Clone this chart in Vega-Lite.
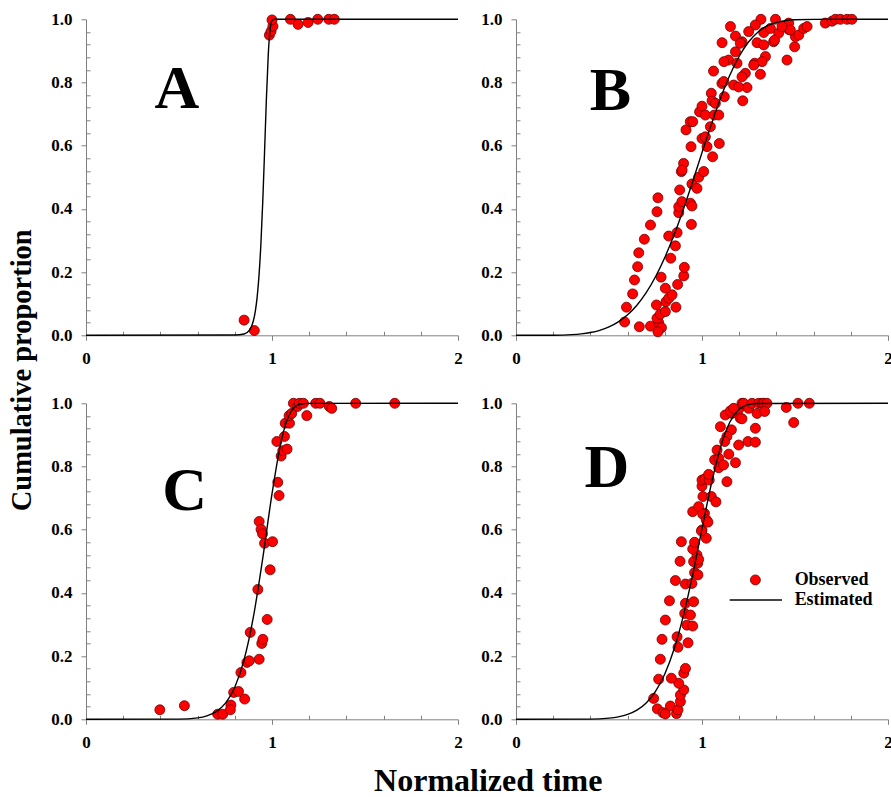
{
"$schema":"https://vega.github.io/schema/vega-lite/v6.json",
"background":"white",
"padding":{"left":8,"top":10.3,"right":0,"bottom":0},
"datasets":{
"curves":[
{"g":"A","t":0,"p":0},{"g":"A","t":0.8,"p":0.001},{"g":"A","t":0.85,"p":0.004},{"g":"A","t":0.88,"p":0.017},{"g":"A","t":0.9,"p":0.046},{"g":"A","t":0.91,"p":0.075},{"g":"A","t":0.92,"p":0.12},{"g":"A","t":0.93,"p":0.188},{"g":"A","t":0.94,"p":0.286},{"g":"A","t":0.95,"p":0.419},{"g":"A","t":0.96,"p":0.581},{"g":"A","t":0.97,"p":0.75},{"g":"A","t":0.98,"p":0.889},{"g":"A","t":0.99,"p":0.969},{"g":"A","t":1.0,"p":0.996},{"g":"A","t":1.01,"p":1.0},{"g":"A","t":2.0,"p":1.0},
{"g":"B","t":0,"p":0},{"g":"B","t":0.2,"p":0.0003},{"g":"B","t":0.3,"p":0.0021},{"g":"B","t":0.35,"p":0.0045},{"g":"B","t":0.4,"p":0.0088},{"g":"B","t":0.45,"p":0.0158},{"g":"B","t":0.5,"p":0.0266},{"g":"B","t":0.55,"p":0.0425},{"g":"B","t":0.6,"p":0.0649},{"g":"B","t":0.65,"p":0.0953},{"g":"B","t":0.7,"p":0.1349},{"g":"B","t":0.75,"p":0.1852},{"g":"B","t":0.8,"p":0.2462},{"g":"B","t":0.85,"p":0.318},{"g":"B","t":0.9,"p":0.3991},{"g":"B","t":0.95,"p":0.487},{"g":"B","t":1.0,"p":0.578},{"g":"B","t":1.05,"p":0.6674},{"g":"B","t":1.1,"p":0.7508},{"g":"B","t":1.15,"p":0.8236},{"g":"B","t":1.2,"p":0.883},{"g":"B","t":1.25,"p":0.9281},{"g":"B","t":1.3,"p":0.9593},{"g":"B","t":1.35,"p":0.9791},{"g":"B","t":1.4,"p":0.9903},{"g":"B","t":1.5,"p":0.9986},{"g":"B","t":1.6,"p":0.9999},{"g":"B","t":2.0,"p":1.0},
{"g":"C","t":0,"p":0},{"g":"C","t":0.5,"p":0.0006},{"g":"C","t":0.6,"p":0.0045},{"g":"C","t":0.65,"p":0.0109},{"g":"C","t":0.7,"p":0.0244},{"g":"C","t":0.75,"p":0.0513},{"g":"C","t":0.8,"p":0.1017},{"g":"C","t":0.85,"p":0.1887},{"g":"C","t":0.9,"p":0.3241},{"g":"C","t":0.95,"p":0.5086},{"g":"C","t":1.0,"p":0.7132},{"g":"C","t":1.05,"p":0.8819},{"g":"C","t":1.1,"p":0.9716},{"g":"C","t":1.15,"p":0.997},{"g":"C","t":1.2,"p":0.9999},{"g":"C","t":2.0,"p":1.0},
{"g":"D","t":0,"p":0},{"g":"D","t":0.4,"p":0.0006},{"g":"D","t":0.5,"p":0.0036},{"g":"D","t":0.55,"p":0.0077},{"g":"D","t":0.6,"p":0.0154},{"g":"D","t":0.65,"p":0.029},{"g":"D","t":0.7,"p":0.0518},{"g":"D","t":0.75,"p":0.0883},{"g":"D","t":0.8,"p":0.1435},{"g":"D","t":0.85,"p":0.2225},{"g":"D","t":0.9,"p":0.328},{"g":"D","t":0.95,"p":0.4581},{"g":"D","t":1.0,"p":0.6029},{"g":"D","t":1.05,"p":0.7445},{"g":"D","t":1.1,"p":0.8619},{"g":"D","t":1.15,"p":0.9407},{"g":"D","t":1.2,"p":0.9812},{"g":"D","t":1.25,"p":0.9959},{"g":"D","t":1.3,"p":0.9995},{"g":"D","t":2.0,"p":1.0}
],
"points":[
{"g":"A","t":0.85,"p":0.048},{"g":"A","t":0.905,"p":0.015},{"g":"A","t":0.986,"p":0.95},{"g":"A","t":0.995,"p":0.962},{"g":"A","t":1.005,"p":0.978},{"g":"A","t":1.0,"p":0.998},{"g":"A","t":1.099,"p":1.0},{"g":"A","t":1.14,"p":0.984},{"g":"A","t":1.194,"p":0.99},{"g":"A","t":1.246,"p":1.0},{"g":"A","t":1.305,"p":1.0},{"g":"A","t":1.335,"p":1.0},
{"g":"C","t":0.397,"p":0.03},{"g":"C","t":0.529,"p":0.043},{"g":"C","t":0.708,"p":0.016},{"g":"C","t":0.735,"p":0.016},{"g":"C","t":0.779,"p":0.045},{"g":"C","t":0.776,"p":0.03},{"g":"C","t":0.794,"p":0.085},{"g":"C","t":0.82,"p":0.088},{"g":"C","t":0.853,"p":0.064},{"g":"C","t":0.833,"p":0.148},{"g":"C","t":0.865,"p":0.18},{"g":"C","t":0.878,"p":0.185},{"g":"C","t":0.883,"p":0.275},{"g":"C","t":0.931,"p":0.19},{"g":"C","t":0.945,"p":0.24},{"g":"C","t":0.951,"p":0.253},{"g":"C","t":0.924,"p":0.411},{"g":"C","t":0.974,"p":0.316},{"g":"C","t":0.99,"p":0.473},{"g":"C","t":0.931,"p":0.626},{"g":"C","t":0.941,"p":0.601},{"g":"C","t":0.949,"p":0.587},{"g":"C","t":0.96,"p":0.557},{"g":"C","t":1.003,"p":0.562},{"g":"C","t":1.031,"p":0.75},{"g":"C","t":1.038,"p":0.708},{"g":"C","t":1.026,"p":0.879},{"g":"C","t":1.049,"p":0.833},{"g":"C","t":1.058,"p":0.85},{"g":"C","t":1.081,"p":0.855},{"g":"C","t":1.067,"p":0.895},{"g":"C","t":1.071,"p":0.937},{"g":"C","t":1.094,"p":0.937},{"g":"C","t":1.092,"p":0.961},{"g":"C","t":1.106,"p":0.968},{"g":"C","t":1.115,"p":1.0},{"g":"C","t":1.137,"p":0.99},{"g":"C","t":1.147,"p":1.0},{"g":"C","t":1.169,"p":1.0},{"g":"C","t":1.187,"p":0.961},{"g":"C","t":1.235,"p":1.0},{"g":"C","t":1.258,"p":1.0},{"g":"C","t":1.308,"p":0.99},{"g":"C","t":1.321,"p":0.984},{"g":"C","t":1.45,"p":1.0},{"g":"C","t":1.66,"p":1.0},
{"g":"B","t":0.584,"p":0.042},{"g":"B","t":0.594,"p":0.089},{"g":"B","t":0.627,"p":0.131},{"g":"B","t":0.637,"p":0.175},{"g":"B","t":0.654,"p":0.217},{"g":"B","t":0.66,"p":0.261},{"g":"B","t":0.69,"p":0.304},{"g":"B","t":0.723,"p":0.349},{"g":"B","t":0.758,"p":0.391},{"g":"B","t":0.763,"p":0.435},
{"g":"B","t":0.663,"p":0.027},{"g":"B","t":0.723,"p":0.029},{"g":"B","t":0.767,"p":0.04},{"g":"B","t":0.782,"p":0.024},{"g":"B","t":0.763,"p":0.011},{"g":"B","t":0.758,"p":0.054},{"g":"B","t":0.776,"p":0.067},{"g":"B","t":0.803,"p":0.075},{"g":"B","t":0.755,"p":0.096},{"g":"B","t":0.806,"p":0.106},{"g":"B","t":0.821,"p":0.117},{"g":"B","t":0.839,"p":0.128},{"g":"B","t":0.86,"p":0.089},{"g":"B","t":0.803,"p":0.149},{"g":"B","t":0.869,"p":0.161},{"g":"B","t":0.902,"p":0.188},{"g":"B","t":0.905,"p":0.215},{"g":"B","t":0.78,"p":0.184},
{"g":"B","t":0.832,"p":0.244},{"g":"B","t":0.857,"p":0.283},{"g":"B","t":0.821,"p":0.314},{"g":"B","t":0.866,"p":0.325},{"g":"B","t":0.943,"p":0.351},{"g":"B","t":0.875,"p":0.388},{"g":"B","t":0.875,"p":0.407},{"g":"B","t":0.892,"p":0.423},{"g":"B","t":0.938,"p":0.418},{"g":"B","t":0.946,"p":0.409},{"g":"B","t":0.88,"p":0.46},{"g":"B","t":0.946,"p":0.479},{"g":"B","t":0.973,"p":0.465},{"g":"B","t":0.982,"p":0.5},{"g":"B","t":1.009,"p":0.518},{"g":"B","t":0.889,"p":0.518},{"g":"B","t":0.901,"p":0.544},{"g":"B","t":0.893,"p":0.523},
{"g":"B","t":0.941,"p":0.597},{"g":"B","t":0.914,"p":0.65},{"g":"B","t":0.937,"p":0.676},{"g":"B","t":0.95,"p":0.676},{"g":"B","t":0.987,"p":0.707},{"g":"B","t":1.0,"p":0.725},{"g":"B","t":1.018,"p":0.697},{"g":"B","t":1.0,"p":0.623},{"g":"B","t":1.018,"p":0.628},{"g":"B","t":1.027,"p":0.597},{"g":"B","t":1.057,"p":0.565},{"g":"B","t":1.093,"p":0.607},{"g":"B","t":1.045,"p":0.66},{"g":"B","t":1.066,"p":0.697},{"g":"B","t":1.09,"p":0.697},{"g":"B","t":1.05,"p":0.766},{"g":"B","t":1.054,"p":0.742},{"g":"B","t":1.072,"p":0.734},{"g":"B","t":1.12,"p":0.755},{"g":"B","t":1.062,"p":0.836},{"g":"B","t":1.107,"p":0.797},
{"g":"B","t":1.153,"p":0.977},{"g":"B","t":1.317,"p":1.0},{"g":"B","t":1.395,"p":1.0},{"g":"B","t":1.287,"p":0.982},{"g":"B","t":1.251,"p":0.961},{"g":"B","t":1.332,"p":0.958},{"g":"B","t":1.368,"p":0.971},{"g":"B","t":1.412,"p":0.956},{"g":"B","t":1.466,"p":0.968},{"g":"B","t":1.502,"p":0.945},{"g":"B","t":1.18,"p":0.947},{"g":"B","t":1.215,"p":0.929},{"g":"B","t":1.108,"p":0.926},{"g":"B","t":1.296,"p":0.926},{"g":"B","t":1.332,"p":0.919},{"g":"B","t":1.385,"p":0.929},{"g":"B","t":1.457,"p":0.871},{"g":"B","t":1.341,"p":0.882},{"g":"B","t":1.283,"p":0.861},{"g":"B","t":1.314,"p":0.826},{"g":"B","t":1.233,"p":0.829},{"g":"B","t":1.18,"p":0.897},{"g":"B","t":1.143,"p":0.871},{"g":"B","t":1.188,"p":0.861},{"g":"B","t":1.117,"p":0.803},{"g":"B","t":1.17,"p":0.792},{"g":"B","t":1.242,"p":0.784},{"g":"B","t":1.219,"p":0.742},
{"g":"B","t":1.118,"p":0.866},{"g":"B","t":1.197,"p":0.786},{"g":"B","t":1.215,"p":0.818},{"g":"B","t":1.323,"p":0.866},{"g":"B","t":1.206,"p":0.924},{"g":"B","t":1.278,"p":0.855},
{"g":"B","t":1.466,"p":0.988},{"g":"B","t":1.475,"p":0.966},{"g":"B","t":1.498,"p":0.913},{"g":"B","t":1.52,"p":0.95},{"g":"B","t":1.547,"p":0.971},{"g":"B","t":1.565,"p":0.977},{"g":"B","t":1.663,"p":0.988},{"g":"B","t":1.699,"p":0.994},{"g":"B","t":1.717,"p":1.0},{"g":"B","t":1.744,"p":1.0},{"g":"B","t":1.78,"p":1.0},{"g":"B","t":1.806,"p":1.0},{"g":"B","t":1.43,"p":0.977},{"g":"B","t":1.39,"p":0.934},
{"g":"D","t":0.74,"p":0.066},{"g":"D","t":0.76,"p":0.033},{"g":"D","t":0.79,"p":0.021},{"g":"D","t":0.803,"p":0.017},{"g":"D","t":0.83,"p":0.042},{"g":"D","t":0.863,"p":0.018},{"g":"D","t":0.871,"p":0.03},{"g":"D","t":0.884,"p":0.056},{"g":"D","t":0.884,"p":0.077},{"g":"D","t":0.902,"p":0.093},{"g":"D","t":0.875,"p":0.114},{"g":"D","t":0.835,"p":0.13},{"g":"D","t":0.767,"p":0.127},{"g":"D","t":0.776,"p":0.19},{"g":"D","t":0.785,"p":0.253},{"g":"D","t":0.803,"p":0.314},{"g":"D","t":0.825,"p":0.375},{"g":"D","t":0.857,"p":0.439},{"g":"D","t":0.882,"p":0.5},{"g":"D","t":0.889,"p":0.562},{"g":"D","t":0.902,"p":0.146},{"g":"D","t":0.911,"p":0.161},{"g":"D","t":0.871,"p":0.228},{"g":"D","t":0.866,"p":0.261},{"g":"D","t":0.925,"p":0.242},{"g":"D","t":0.919,"p":0.298},{"g":"D","t":0.95,"p":0.295},{"g":"D","t":0.907,"p":0.335},{"g":"D","t":0.938,"p":0.33},{"g":"D","t":0.911,"p":0.367},{"g":"D","t":0.955,"p":0.372},{"g":"D","t":0.911,"p":0.428},{"g":"D","t":0.946,"p":0.43},{"g":"D","t":0.96,"p":0.464},{"g":"D","t":0.978,"p":0.457},{"g":"D","t":0.977,"p":0.494},{"g":"D","t":0.955,"p":0.499},{"g":"D","t":0.973,"p":0.52},{"g":"D","t":0.95,"p":0.539},{"g":"D","t":0.96,"p":0.56},{"g":"D","t":1.0,"p":0.599},{"g":"D","t":1.023,"p":0.573},{"g":"D","t":0.982,"p":0.506},{"g":"D","t":0.997,"p":0.596},
{"g":"D","t":0.95,"p":0.657},{"g":"D","t":0.982,"p":0.673},{"g":"D","t":1.013,"p":0.652},{"g":"D","t":1.004,"p":0.649},{"g":"D","t":1.023,"p":0.631},{"g":"D","t":1.032,"p":0.624},{"g":"D","t":1.005,"p":0.705},{"g":"D","t":1.0,"p":0.738},{"g":"D","t":1.0,"p":0.757},{"g":"D","t":1.015,"p":0.761},{"g":"D","t":1.039,"p":0.757},{"g":"D","t":1.036,"p":0.775},{"g":"D","t":1.05,"p":0.705},{"g":"D","t":1.075,"p":0.688},{"g":"D","t":1.068,"p":0.821},{"g":"D","t":1.09,"p":0.826},{"g":"D","t":1.081,"p":0.852},{"g":"D","t":1.09,"p":0.796},{"g":"D","t":1.116,"p":0.805},{"g":"D","t":1.134,"p":0.752},{"g":"D","t":1.144,"p":0.839},{"g":"D","t":1.18,"p":0.812},{"g":"D","t":1.197,"p":0.868},{"g":"D","t":1.247,"p":0.879},{"g":"D","t":1.287,"p":0.877},{"g":"D","t":1.287,"p":0.921},{"g":"D","t":1.099,"p":0.926},{"g":"D","t":1.125,"p":0.963},{"g":"D","t":1.158,"p":0.916},{"g":"D","t":1.134,"p":0.895},{"g":"D","t":1.122,"p":0.879},{"g":"D","t":1.161,"p":0.968},{"g":"D","t":1.153,"p":0.976},{"g":"D","t":1.197,"p":0.981},{"g":"D","t":1.206,"p":0.953},{"g":"D","t":1.215,"p":0.951},{"g":"D","t":1.17,"p":0.984},{"g":"D","t":1.215,"p":1.0},{"g":"D","t":1.224,"p":1.0},{"g":"D","t":1.251,"p":0.984},{"g":"D","t":1.296,"p":0.968},{"g":"D","t":1.269,"p":1.0},{"g":"D","t":1.305,"p":1.0},{"g":"D","t":1.323,"p":1.0},{"g":"D","t":1.332,"p":1.0},{"g":"D","t":1.349,"p":1.0},{"g":"D","t":1.337,"p":0.974},{"g":"D","t":1.453,"p":0.987},{"g":"D","t":1.493,"p":0.939},{"g":"D","t":1.516,"p":1.0},{"g":"D","t":1.577,"p":1.0}
]
},
"title":{"text":"Normalized time","orient":"bottom","anchor":"middle","fontSize":32,"offset":16,"dx":38},
"vconcat":[{
"title":{"text":"Cumulative proportion","orient":"left","anchor":"middle","fontSize":28.5,"offset":14,"dx":10},
"columns":2,
"bounds":"flush",
"spacing":{"row":68,"column":58},
"concat":[
{"width":372,"height":316,"layer":[
{"data":{"name":"points"},"transform":[{"filter":"datum.g==='A'"}],"mark":{"type":"circle","size":100,"color":"#ff0000","stroke":"#700000","strokeWidth":0.8,"opacity":1},
"encoding":{"x":{"field":"t","type":"quantitative","scale":{"domain":[0,2],"nice":false,"zero":false},"axis":{"title":null,"values":[0,0.2,0.4,0.6,0.8,1,1.2,1.4,1.6,1.8,2],"labelExpr":"abs(datum.value-round(datum.value))<0.001 ? format(datum.value,'d') : ''","tickSize":{"condition":{"test":"abs(datum.value-round(datum.value))<0.001","value":5},"value":-4},"labelPadding":10,"labelOverlap":false,"labelFlush":false}},"y":{"field":"p","type":"quantitative","scale":{"domain":[0,1],"nice":false,"zero":false},"axis":{"title":null,"values":[0,0.04,0.08,0.12,0.16,0.2,0.24,0.28,0.32,0.36,0.4,0.44,0.48,0.52,0.56,0.6,0.64,0.68,0.72,0.76,0.8,0.84,0.88,0.92,0.96,1],"labelExpr":"abs(datum.value*5-round(datum.value*5))<0.001 ? format(datum.value,'.1f') : ''","tickSize":{"condition":{"test":"abs(datum.value*5-round(datum.value*5))<0.001","value":5},"value":-4},"labelPadding":9,"labelOverlap":false,"labelFlush":false}}}},
{"data":{"name":"curves"},"transform":[{"filter":"datum.g==='A'"}],"mark":{"type":"line","color":"#000","strokeWidth":1.4,"interpolate":"monotone"},
"encoding":{"x":{"field":"t","type":"quantitative","scale":{"domain":[0,2],"nice":false,"zero":false},"axis":{"title":null,"values":[0,0.2,0.4,0.6,0.8,1,1.2,1.4,1.6,1.8,2],"labelExpr":"abs(datum.value-round(datum.value))<0.001 ? format(datum.value,'d') : ''","tickSize":{"condition":{"test":"abs(datum.value-round(datum.value))<0.001","value":5},"value":-4},"labelPadding":10,"labelOverlap":false,"labelFlush":false}},"y":{"field":"p","type":"quantitative","scale":{"domain":[0,1],"nice":false,"zero":false},"axis":{"title":null,"values":[0,0.04,0.08,0.12,0.16,0.2,0.24,0.28,0.32,0.36,0.4,0.44,0.48,0.52,0.56,0.6,0.64,0.68,0.72,0.76,0.8,0.84,0.88,0.92,0.96,1],"labelExpr":"abs(datum.value*5-round(datum.value*5))<0.001 ? format(datum.value,'.1f') : ''","tickSize":{"condition":{"test":"abs(datum.value*5-round(datum.value*5))<0.001","value":5},"value":-4},"labelPadding":9,"labelOverlap":false,"labelFlush":false}}}},
{"data":{"values":[{}]},"mark":{"type":"text","fontSize":62,"fontWeight":"bold","align":"center","baseline":"alphabetic","color":"#000","text":"A"},
"encoding":{"x":{"datum":0.488,"type":"quantitative","scale":{"domain":[0,2],"nice":false,"zero":false},"axis":{"title":null,"values":[0,0.2,0.4,0.6,0.8,1,1.2,1.4,1.6,1.8,2],"labelExpr":"abs(datum.value-round(datum.value))<0.001 ? format(datum.value,'d') : ''","tickSize":{"condition":{"test":"abs(datum.value-round(datum.value))<0.001","value":5},"value":-4},"labelPadding":10,"labelOverlap":false,"labelFlush":false}},"y":{"datum":0.72,"type":"quantitative","scale":{"domain":[0,1],"nice":false,"zero":false},"axis":{"title":null,"values":[0,0.04,0.08,0.12,0.16,0.2,0.24,0.28,0.32,0.36,0.4,0.44,0.48,0.52,0.56,0.6,0.64,0.68,0.72,0.76,0.8,0.84,0.88,0.92,0.96,1],"labelExpr":"abs(datum.value*5-round(datum.value*5))<0.001 ? format(datum.value,'.1f') : ''","tickSize":{"condition":{"test":"abs(datum.value*5-round(datum.value*5))<0.001","value":5},"value":-4},"labelPadding":9,"labelOverlap":false,"labelFlush":false}}}}
]},
{"width":372,"height":316,"layer":[
{"data":{"name":"points"},"transform":[{"filter":"datum.g==='B'"}],"mark":{"type":"circle","size":100,"color":"#ff0000","stroke":"#700000","strokeWidth":0.8,"opacity":1},
"encoding":{"x":{"field":"t","type":"quantitative","scale":{"domain":[0,2],"nice":false,"zero":false},"axis":{"title":null,"values":[0,0.2,0.4,0.6,0.8,1,1.2,1.4,1.6,1.8,2],"labelExpr":"abs(datum.value-round(datum.value))<0.001 ? format(datum.value,'d') : ''","tickSize":{"condition":{"test":"abs(datum.value-round(datum.value))<0.001","value":5},"value":-4},"labelPadding":10,"labelOverlap":false,"labelFlush":false}},"y":{"field":"p","type":"quantitative","scale":{"domain":[0,1],"nice":false,"zero":false},"axis":{"title":null,"values":[0,0.04,0.08,0.12,0.16,0.2,0.24,0.28,0.32,0.36,0.4,0.44,0.48,0.52,0.56,0.6,0.64,0.68,0.72,0.76,0.8,0.84,0.88,0.92,0.96,1],"labelExpr":"abs(datum.value*5-round(datum.value*5))<0.001 ? format(datum.value,'.1f') : ''","tickSize":{"condition":{"test":"abs(datum.value*5-round(datum.value*5))<0.001","value":5},"value":-4},"labelPadding":9,"labelOverlap":false,"labelFlush":false}}}},
{"data":{"name":"curves"},"transform":[{"filter":"datum.g==='B'"}],"mark":{"type":"line","color":"#000","strokeWidth":1.4,"interpolate":"monotone"},
"encoding":{"x":{"field":"t","type":"quantitative","scale":{"domain":[0,2],"nice":false,"zero":false},"axis":{"title":null,"values":[0,0.2,0.4,0.6,0.8,1,1.2,1.4,1.6,1.8,2],"labelExpr":"abs(datum.value-round(datum.value))<0.001 ? format(datum.value,'d') : ''","tickSize":{"condition":{"test":"abs(datum.value-round(datum.value))<0.001","value":5},"value":-4},"labelPadding":10,"labelOverlap":false,"labelFlush":false}},"y":{"field":"p","type":"quantitative","scale":{"domain":[0,1],"nice":false,"zero":false},"axis":{"title":null,"values":[0,0.04,0.08,0.12,0.16,0.2,0.24,0.28,0.32,0.36,0.4,0.44,0.48,0.52,0.56,0.6,0.64,0.68,0.72,0.76,0.8,0.84,0.88,0.92,0.96,1],"labelExpr":"abs(datum.value*5-round(datum.value*5))<0.001 ? format(datum.value,'.1f') : ''","tickSize":{"condition":{"test":"abs(datum.value*5-round(datum.value*5))<0.001","value":5},"value":-4},"labelPadding":9,"labelOverlap":false,"labelFlush":false}}}},
{"data":{"values":[{}]},"mark":{"type":"text","fontSize":62,"fontWeight":"bold","align":"center","baseline":"alphabetic","color":"#000","text":"B"},
"encoding":{"x":{"datum":0.507,"type":"quantitative","scale":{"domain":[0,2],"nice":false,"zero":false},"axis":{"title":null,"values":[0,0.2,0.4,0.6,0.8,1,1.2,1.4,1.6,1.8,2],"labelExpr":"abs(datum.value-round(datum.value))<0.001 ? format(datum.value,'d') : ''","tickSize":{"condition":{"test":"abs(datum.value-round(datum.value))<0.001","value":5},"value":-4},"labelPadding":10,"labelOverlap":false,"labelFlush":false}},"y":{"datum":0.713,"type":"quantitative","scale":{"domain":[0,1],"nice":false,"zero":false},"axis":{"title":null,"values":[0,0.04,0.08,0.12,0.16,0.2,0.24,0.28,0.32,0.36,0.4,0.44,0.48,0.52,0.56,0.6,0.64,0.68,0.72,0.76,0.8,0.84,0.88,0.92,0.96,1],"labelExpr":"abs(datum.value*5-round(datum.value*5))<0.001 ? format(datum.value,'.1f') : ''","tickSize":{"condition":{"test":"abs(datum.value*5-round(datum.value*5))<0.001","value":5},"value":-4},"labelPadding":9,"labelOverlap":false,"labelFlush":false}}}}
]},
{"width":372,"height":316,"layer":[
{"data":{"name":"points"},"transform":[{"filter":"datum.g==='C'"}],"mark":{"type":"circle","size":100,"color":"#ff0000","stroke":"#700000","strokeWidth":0.8,"opacity":1},
"encoding":{"x":{"field":"t","type":"quantitative","scale":{"domain":[0,2],"nice":false,"zero":false},"axis":{"title":null,"values":[0,0.2,0.4,0.6,0.8,1,1.2,1.4,1.6,1.8,2],"labelExpr":"abs(datum.value-round(datum.value))<0.001 ? format(datum.value,'d') : ''","tickSize":{"condition":{"test":"abs(datum.value-round(datum.value))<0.001","value":5},"value":-4},"labelPadding":10,"labelOverlap":false,"labelFlush":false}},"y":{"field":"p","type":"quantitative","scale":{"domain":[0,1],"nice":false,"zero":false},"axis":{"title":null,"values":[0,0.04,0.08,0.12,0.16,0.2,0.24,0.28,0.32,0.36,0.4,0.44,0.48,0.52,0.56,0.6,0.64,0.68,0.72,0.76,0.8,0.84,0.88,0.92,0.96,1],"labelExpr":"abs(datum.value*5-round(datum.value*5))<0.001 ? format(datum.value,'.1f') : ''","tickSize":{"condition":{"test":"abs(datum.value*5-round(datum.value*5))<0.001","value":5},"value":-4},"labelPadding":9,"labelOverlap":false,"labelFlush":false}}}},
{"data":{"name":"curves"},"transform":[{"filter":"datum.g==='C'"}],"mark":{"type":"line","color":"#000","strokeWidth":1.4,"interpolate":"monotone"},
"encoding":{"x":{"field":"t","type":"quantitative","scale":{"domain":[0,2],"nice":false,"zero":false},"axis":{"title":null,"values":[0,0.2,0.4,0.6,0.8,1,1.2,1.4,1.6,1.8,2],"labelExpr":"abs(datum.value-round(datum.value))<0.001 ? format(datum.value,'d') : ''","tickSize":{"condition":{"test":"abs(datum.value-round(datum.value))<0.001","value":5},"value":-4},"labelPadding":10,"labelOverlap":false,"labelFlush":false}},"y":{"field":"p","type":"quantitative","scale":{"domain":[0,1],"nice":false,"zero":false},"axis":{"title":null,"values":[0,0.04,0.08,0.12,0.16,0.2,0.24,0.28,0.32,0.36,0.4,0.44,0.48,0.52,0.56,0.6,0.64,0.68,0.72,0.76,0.8,0.84,0.88,0.92,0.96,1],"labelExpr":"abs(datum.value*5-round(datum.value*5))<0.001 ? format(datum.value,'.1f') : ''","tickSize":{"condition":{"test":"abs(datum.value*5-round(datum.value*5))<0.001","value":5},"value":-4},"labelPadding":9,"labelOverlap":false,"labelFlush":false}}}},
{"data":{"values":[{}]},"mark":{"type":"text","fontSize":62,"fontWeight":"bold","align":"center","baseline":"alphabetic","color":"#000","text":"C"},
"encoding":{"x":{"datum":0.53,"type":"quantitative","scale":{"domain":[0,2],"nice":false,"zero":false},"axis":{"title":null,"values":[0,0.2,0.4,0.6,0.8,1,1.2,1.4,1.6,1.8,2],"labelExpr":"abs(datum.value-round(datum.value))<0.001 ? format(datum.value,'d') : ''","tickSize":{"condition":{"test":"abs(datum.value-round(datum.value))<0.001","value":5},"value":-4},"labelPadding":10,"labelOverlap":false,"labelFlush":false}},"y":{"datum":0.662,"type":"quantitative","scale":{"domain":[0,1],"nice":false,"zero":false},"axis":{"title":null,"values":[0,0.04,0.08,0.12,0.16,0.2,0.24,0.28,0.32,0.36,0.4,0.44,0.48,0.52,0.56,0.6,0.64,0.68,0.72,0.76,0.8,0.84,0.88,0.92,0.96,1],"labelExpr":"abs(datum.value*5-round(datum.value*5))<0.001 ? format(datum.value,'.1f') : ''","tickSize":{"condition":{"test":"abs(datum.value*5-round(datum.value*5))<0.001","value":5},"value":-4},"labelPadding":9,"labelOverlap":false,"labelFlush":false}}}}
]},
{"width":372,"height":316,"layer":[
{"data":{"name":"points"},"transform":[{"filter":"datum.g==='D'"}],"mark":{"type":"circle","size":100,"color":"#ff0000","stroke":"#700000","strokeWidth":0.8,"opacity":1},
"encoding":{"x":{"field":"t","type":"quantitative","scale":{"domain":[0,2],"nice":false,"zero":false},"axis":{"title":null,"values":[0,0.2,0.4,0.6,0.8,1,1.2,1.4,1.6,1.8,2],"labelExpr":"abs(datum.value-round(datum.value))<0.001 ? format(datum.value,'d') : ''","tickSize":{"condition":{"test":"abs(datum.value-round(datum.value))<0.001","value":5},"value":-4},"labelPadding":10,"labelOverlap":false,"labelFlush":false}},"y":{"field":"p","type":"quantitative","scale":{"domain":[0,1],"nice":false,"zero":false},"axis":{"title":null,"values":[0,0.04,0.08,0.12,0.16,0.2,0.24,0.28,0.32,0.36,0.4,0.44,0.48,0.52,0.56,0.6,0.64,0.68,0.72,0.76,0.8,0.84,0.88,0.92,0.96,1],"labelExpr":"abs(datum.value*5-round(datum.value*5))<0.001 ? format(datum.value,'.1f') : ''","tickSize":{"condition":{"test":"abs(datum.value*5-round(datum.value*5))<0.001","value":5},"value":-4},"labelPadding":9,"labelOverlap":false,"labelFlush":false}}}},
{"data":{"name":"curves"},"transform":[{"filter":"datum.g==='D'"}],"mark":{"type":"line","color":"#000","strokeWidth":1.4,"interpolate":"monotone"},
"encoding":{"x":{"field":"t","type":"quantitative","scale":{"domain":[0,2],"nice":false,"zero":false},"axis":{"title":null,"values":[0,0.2,0.4,0.6,0.8,1,1.2,1.4,1.6,1.8,2],"labelExpr":"abs(datum.value-round(datum.value))<0.001 ? format(datum.value,'d') : ''","tickSize":{"condition":{"test":"abs(datum.value-round(datum.value))<0.001","value":5},"value":-4},"labelPadding":10,"labelOverlap":false,"labelFlush":false}},"y":{"field":"p","type":"quantitative","scale":{"domain":[0,1],"nice":false,"zero":false},"axis":{"title":null,"values":[0,0.04,0.08,0.12,0.16,0.2,0.24,0.28,0.32,0.36,0.4,0.44,0.48,0.52,0.56,0.6,0.64,0.68,0.72,0.76,0.8,0.84,0.88,0.92,0.96,1],"labelExpr":"abs(datum.value*5-round(datum.value*5))<0.001 ? format(datum.value,'.1f') : ''","tickSize":{"condition":{"test":"abs(datum.value*5-round(datum.value*5))<0.001","value":5},"value":-4},"labelPadding":9,"labelOverlap":false,"labelFlush":false}}}},
{"data":{"values":[{}]},"mark":{"type":"text","fontSize":62,"fontWeight":"bold","align":"center","baseline":"alphabetic","color":"#000","text":"D"},
"encoding":{"x":{"datum":0.488,"type":"quantitative","scale":{"domain":[0,2],"nice":false,"zero":false},"axis":{"title":null,"values":[0,0.2,0.4,0.6,0.8,1,1.2,1.4,1.6,1.8,2],"labelExpr":"abs(datum.value-round(datum.value))<0.001 ? format(datum.value,'d') : ''","tickSize":{"condition":{"test":"abs(datum.value-round(datum.value))<0.001","value":5},"value":-4},"labelPadding":10,"labelOverlap":false,"labelFlush":false}},"y":{"datum":0.734,"type":"quantitative","scale":{"domain":[0,1],"nice":false,"zero":false},"axis":{"title":null,"values":[0,0.04,0.08,0.12,0.16,0.2,0.24,0.28,0.32,0.36,0.4,0.44,0.48,0.52,0.56,0.6,0.64,0.68,0.72,0.76,0.8,0.84,0.88,0.92,0.96,1],"labelExpr":"abs(datum.value*5-round(datum.value*5))<0.001 ? format(datum.value,'.1f') : ''","tickSize":{"condition":{"test":"abs(datum.value*5-round(datum.value*5))<0.001","value":5},"value":-4},"labelPadding":9,"labelOverlap":false,"labelFlush":false}}}},
{"data":{"values":[{}]},"mark":{"type":"circle","size":100,"color":"#ff0000","stroke":"#700000","strokeWidth":0.8,"opacity":1},
"encoding":{"x":{"datum":1.287,"type":"quantitative","scale":{"domain":[0,2],"nice":false,"zero":false},"axis":{"title":null,"values":[0,0.2,0.4,0.6,0.8,1,1.2,1.4,1.6,1.8,2],"labelExpr":"abs(datum.value-round(datum.value))<0.001 ? format(datum.value,'d') : ''","tickSize":{"condition":{"test":"abs(datum.value-round(datum.value))<0.001","value":5},"value":-4},"labelPadding":10,"labelOverlap":false,"labelFlush":false}},"y":{"datum":0.441,"type":"quantitative","scale":{"domain":[0,1],"nice":false,"zero":false},"axis":{"title":null,"values":[0,0.04,0.08,0.12,0.16,0.2,0.24,0.28,0.32,0.36,0.4,0.44,0.48,0.52,0.56,0.6,0.64,0.68,0.72,0.76,0.8,0.84,0.88,0.92,0.96,1],"labelExpr":"abs(datum.value*5-round(datum.value*5))<0.001 ? format(datum.value,'.1f') : ''","tickSize":{"condition":{"test":"abs(datum.value*5-round(datum.value*5))<0.001","value":5},"value":-4},"labelPadding":9,"labelOverlap":false,"labelFlush":false}}}},
{"data":{"values":[{}]},"mark":{"type":"rule","color":"#444444","strokeWidth":2},
"encoding":{"x":{"datum":1.149,"type":"quantitative","scale":{"domain":[0,2],"nice":false,"zero":false},"axis":{"title":null,"values":[0,0.2,0.4,0.6,0.8,1,1.2,1.4,1.6,1.8,2],"labelExpr":"abs(datum.value-round(datum.value))<0.001 ? format(datum.value,'d') : ''","tickSize":{"condition":{"test":"abs(datum.value-round(datum.value))<0.001","value":5},"value":-4},"labelPadding":10,"labelOverlap":false,"labelFlush":false}},"x2":{"datum":1.43},"y":{"datum":0.3775,"type":"quantitative","scale":{"domain":[0,1],"nice":false,"zero":false},"axis":{"title":null,"values":[0,0.04,0.08,0.12,0.16,0.2,0.24,0.28,0.32,0.36,0.4,0.44,0.48,0.52,0.56,0.6,0.64,0.68,0.72,0.76,0.8,0.84,0.88,0.92,0.96,1],"labelExpr":"abs(datum.value*5-round(datum.value*5))<0.001 ? format(datum.value,'.1f') : ''","tickSize":{"condition":{"test":"abs(datum.value*5-round(datum.value*5))<0.001","value":5},"value":-4},"labelPadding":9,"labelOverlap":false,"labelFlush":false}}}},
{"data":{"values":[{}]},"mark":{"type":"text","fontSize":18,"fontWeight":"bold","align":"left","baseline":"middle","color":"#000","text":"Observed"},
"encoding":{"x":{"datum":1.498,"type":"quantitative","scale":{"domain":[0,2],"nice":false,"zero":false},"axis":{"title":null,"values":[0,0.2,0.4,0.6,0.8,1,1.2,1.4,1.6,1.8,2],"labelExpr":"abs(datum.value-round(datum.value))<0.001 ? format(datum.value,'d') : ''","tickSize":{"condition":{"test":"abs(datum.value-round(datum.value))<0.001","value":5},"value":-4},"labelPadding":10,"labelOverlap":false,"labelFlush":false}},"y":{"datum":0.441,"type":"quantitative","scale":{"domain":[0,1],"nice":false,"zero":false},"axis":{"title":null,"values":[0,0.04,0.08,0.12,0.16,0.2,0.24,0.28,0.32,0.36,0.4,0.44,0.48,0.52,0.56,0.6,0.64,0.68,0.72,0.76,0.8,0.84,0.88,0.92,0.96,1],"labelExpr":"abs(datum.value*5-round(datum.value*5))<0.001 ? format(datum.value,'.1f') : ''","tickSize":{"condition":{"test":"abs(datum.value*5-round(datum.value*5))<0.001","value":5},"value":-4},"labelPadding":9,"labelOverlap":false,"labelFlush":false}}}},
{"data":{"values":[{}]},"mark":{"type":"text","fontSize":18,"fontWeight":"bold","align":"left","baseline":"middle","color":"#000","text":"Estimated"},
"encoding":{"x":{"datum":1.498,"type":"quantitative","scale":{"domain":[0,2],"nice":false,"zero":false},"axis":{"title":null,"values":[0,0.2,0.4,0.6,0.8,1,1.2,1.4,1.6,1.8,2],"labelExpr":"abs(datum.value-round(datum.value))<0.001 ? format(datum.value,'d') : ''","tickSize":{"condition":{"test":"abs(datum.value-round(datum.value))<0.001","value":5},"value":-4},"labelPadding":10,"labelOverlap":false,"labelFlush":false}},"y":{"datum":0.3775,"type":"quantitative","scale":{"domain":[0,1],"nice":false,"zero":false},"axis":{"title":null,"values":[0,0.04,0.08,0.12,0.16,0.2,0.24,0.28,0.32,0.36,0.4,0.44,0.48,0.52,0.56,0.6,0.64,0.68,0.72,0.76,0.8,0.84,0.88,0.92,0.96,1],"labelExpr":"abs(datum.value*5-round(datum.value*5))<0.001 ? format(datum.value,'.1f') : ''","tickSize":{"condition":{"test":"abs(datum.value*5-round(datum.value*5))<0.001","value":5},"value":-4},"labelPadding":9,"labelOverlap":false,"labelFlush":false}}}}
]}
]
}],
"config":{
"font":"Liberation Serif",
"view":{"stroke":null},
"axis":{"domainColor":"#808080","tickColor":"#808080","domainWidth":1,"tickWidth":1,"grid":false,"labelFont":"Liberation Serif","labelFontWeight":"bold","labelFontSize":17,"labelColor":"#000","labelOverlap":false},
"title":{"font":"Liberation Serif","fontWeight":"bold","color":"#000"},
"text":{"font":"Liberation Serif"}
}
}
